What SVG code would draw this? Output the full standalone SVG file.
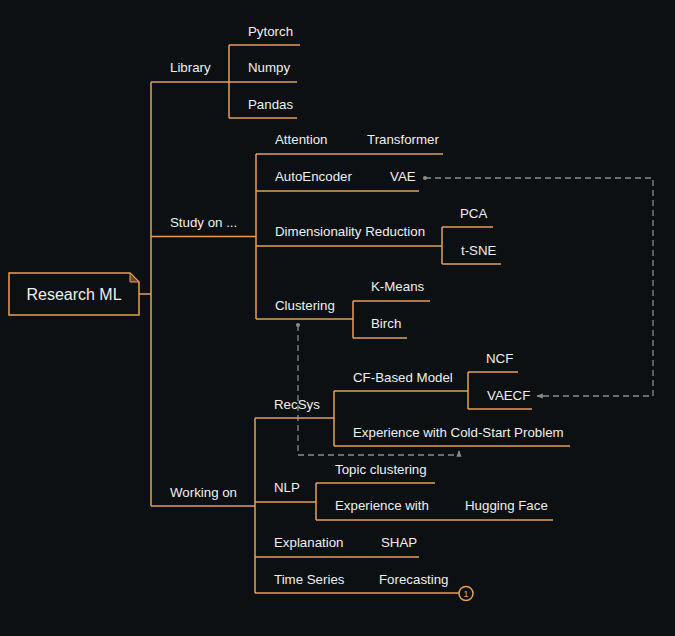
<svg xmlns="http://www.w3.org/2000/svg" width="675" height="636" viewBox="0 0 675 636">
<defs>
<style>
.bg{fill:#0c1012}
.t{font-family:"Liberation Sans",Arial,sans-serif;font-size:13.3px;fill:#efefef}
.r{font-family:"Liberation Sans",Arial,sans-serif;font-size:16px;fill:#efefef}
.ln{stroke:#e3a058;stroke-width:1.5;fill:none}
.ds{stroke:#8a8a8a;stroke-width:1.3;fill:none;stroke-dasharray:6 4}
</style>
<marker id="ah" viewBox="0 0 10 10" refX="9" refY="5" markerWidth="5" markerHeight="5" orient="auto-start-reverse">
<path d="M0,1 L10,5 L0,9 z" fill="#8a8a8a"/>
</marker>
<marker id="dot" viewBox="0 0 10 10" refX="5" refY="5" markerWidth="4" markerHeight="4">
<circle cx="5" cy="5" r="4" fill="#8a8a8a"/>
</marker>
</defs>
<rect class="bg" width="675" height="636"/>
<g id="connectors">
<path class="ln" d="M139,294 H151 M151,82 V506 M229,45 V118 M256,154 V319 M442,227 V264 M353,301 V338 M255,418 V593 M334,391 V446 M468,372 V409 M316,483 V520"/>
<path class="ds" d="M425,178 H653 V396 H537" marker-start="url(#dot)" marker-end="url(#ah)"/>
<path class="ds" d="M298,325 V455 H459 V451" marker-start="url(#dot)" marker-end="url(#ah)"/>
</g>
<g id="root">
<path class="ln" d="M9,273 H130 L139,282 V315 H9 Z"/>
<path d="M130,273 V282 H139 Z" fill="#6b4a26" stroke="#e3a058" stroke-width="1"/>
<text class="r" x="74" y="300" text-anchor="middle">Research ML</text>
</g>
<g id="library"><path class="ln" d="M151,82 H229"/><text class="t" x="170" y="72">Library</text></g>
<g id="pytorch"><path class="ln" d="M229,45 H300"/><text class="t" x="248" y="36">Pytorch</text></g>
<g id="numpy"><path class="ln" d="M229,82 H297"/><text class="t" x="248" y="72">Numpy</text></g>
<g id="pandas"><path class="ln" d="M229,118 H297"/><text class="t" x="248" y="109">Pandas</text></g>
<g id="study"><path class="ln" d="M151,236.5 H256"/><text class="t" x="170" y="227">Study on ...</text></g>
<g id="attention"><path class="ln" d="M256,154 H360"/><text class="t" x="275" y="144">Attention</text></g>
<g id="transformer"><path class="ln" d="M360,154 H443"/><text class="t" x="367" y="144">Transformer</text></g>
<g id="autoencoder"><path class="ln" d="M256,191 H382"/><text class="t" x="275" y="181">AutoEncoder</text></g>
<g id="vae"><path class="ln" d="M382,191 H419"/><text class="t" x="390" y="181">VAE</text></g>
<g id="dimred"><path class="ln" d="M256,246 H442"/><text class="t" x="275" y="236">Dimensionality Reduction</text></g>
<g id="pca"><path class="ln" d="M442,227 H493"/><text class="t" x="460" y="218">PCA</text></g>
<g id="tsne"><path class="ln" d="M442,264 H501"/><text class="t" x="461" y="255">t-SNE</text></g>
<g id="clustering"><path class="ln" d="M256,319 H353"/><text class="t" x="275" y="310">Clustering</text></g>
<g id="kmeans"><path class="ln" d="M353,301 H430"/><text class="t" x="371" y="291">K-Means</text></g>
<g id="birch"><path class="ln" d="M353,338 H407"/><text class="t" x="371" y="328">Birch</text></g>
<g id="working"><path class="ln" d="M151,506 H255"/><text class="t" x="170" y="497">Working on</text></g>
<g id="recsys"><path class="ln" d="M255,418 H334"/><text class="t" x="274" y="409">RecSys</text></g>
<g id="cfbased"><path class="ln" d="M334,391 H468"/><text class="t" x="353" y="382">CF-Based Model</text></g>
<g id="ncf"><path class="ln" d="M468,372 H518"/><text class="t" x="486" y="363">NCF</text></g>
<g id="vaecf"><path class="ln" d="M468,409 H532"/><text class="t" x="487" y="400">VAECF</text></g>
<g id="coldstart"><path class="ln" d="M334,446 H570"/><text class="t" x="353" y="437">Experience with Cold-Start Problem</text></g>
<g id="nlp"><path class="ln" d="M255,502 H316"/><text class="t" x="274" y="492">NLP</text></g>
<g id="topic"><path class="ln" d="M316,483 H435"/><text class="t" x="335" y="474">Topic clustering</text></g>
<g id="expwith"><path class="ln" d="M316,520 H446"/><text class="t" x="335" y="510">Experience with</text></g>
<g id="hugging"><path class="ln" d="M446,520 H553"/><text class="t" x="465" y="510">Hugging Face</text></g>
<g id="explanation"><path class="ln" d="M255,557 H362"/><text class="t" x="274" y="547">Explanation</text></g>
<g id="shap"><path class="ln" d="M362,557 H419"/><text class="t" x="381" y="547">SHAP</text></g>
<g id="timeseries"><path class="ln" d="M255,593 H360"/><text class="t" x="274" y="584">Time Series</text></g>
<g id="forecasting"><path class="ln" d="M360,593 H459"/><text class="t" x="379" y="584">Forecasting</text>
<circle cx="466" cy="593.5" r="7" class="ln" stroke-width="1.2"/>
<text x="466" y="597" text-anchor="middle" style="font-family:'Liberation Sans',Arial,sans-serif;font-size:9px;fill:#e3a058">1</text></g>
</svg>
